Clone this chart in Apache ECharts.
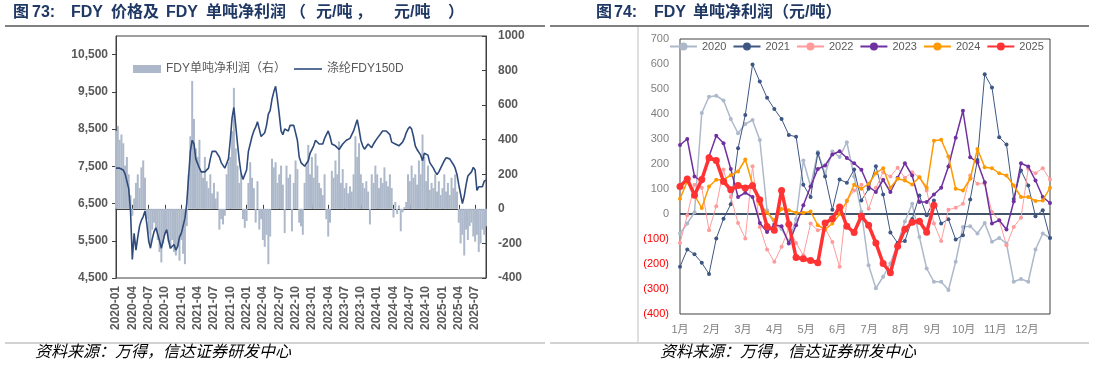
<!DOCTYPE html>
<html><head><meta charset="utf-8">
<script src="https://cdn.jsdelivr.net/npm/echarts@6/dist/echarts.min.js"></script>
<style>html,body{margin:0;padding:0;background:#fff}#c{width:1094px;height:367px}</style>
</head><body><div id="c"></div>
<script>
// ---------- Left chart: FDY price (left axis) & profit per ton (right axis), 3 points per month ----------
const price2020 = [7450,7460,7450, 7430,7400,7300, 7300,6900,6300, 5000,5700,5250, 5600,5900,6050, 6150,6300,5950, 5500,5300,5550, 5750,5850,5800, 5500,5300,5350, 5700,5800,5500, 5300,5250,5400, 5250,5350,5600];
const price2021 = [5700,5900,6100, 6500,7200,7900, 8200,8100,7700, 7650,7450,7350, 7400,7350,7400, 7450,7700,7900, 7950,7900,7850, 7750,7600,7550, 7450,7500,7700, 8200,8800,9080, 8600,8100,7650, 7300,7150,7100];
const price2022 = [7400,7900,8100, 8300,8450,8550, 8700,8500,8300, 8350,8400,8600, 8900,9000,9300, 9500,9650,9300, 8900,8450,8350, 8500,8450,8450, 8600,8650,8600, 8550,8200,7750, 7600,7550,7500, 7500,7650,7850];
const price2023 = [7950,8050,8200, 8180,8100,8050, 8100,8250,8350, 8450,8300,8100, 8100,8050,8000, 7950,7980,8100, 8150,8200,8200, 8250,8300,8450, 8600,8750,8500, 8200,8050,7960, 8000,8100,8050, 8000,8100,8180];
const price2024 = [8250,8300,8380, 8450,8450,8450, 8400,8350,8150, 8150,8100,8100, 8050,8000,8150, 8250,8400,8500, 8560,8500,8300, 8050,7950,7900, 7800,7650,7850, 7870,7800,7600, 7550,7450,7350, 7280,7350,7450];
const price2025 = [7550,7650,7730, 7730,7700,7650, 7550,7450,7280, 7000,6750,6500, 6700,7000,7240, 7200,7350,7470, 7400,6850,6950, 7000,6950,7100, 7130];

const profit2020 = [450,480,400, 430,380,250, 300,200,80, -40,60,150, 200,120,240, 280,180,-60, -150,-200,-120, -80,-130,-180, -250,-310,-200, -150,-120,-190, -230,-180,-250, -270,-220,-300];
const profit2021 = [-180,-260,-320, -100,200,420, 740,520,350, 300,400,220, 180,300,160, 120,200,90, 150,60,100, -120,-60,-90, -40,200,270, 300,450,700, 350,250,150, 200,-60,-110];
const profit2022 = [-70,150,270, 180,120,-80, 160,-120,-60, -180,-220,-150, -320,-160,290, 240,270,150, 200,250,140, -140,250,180, 200,-130,150, 280,230,-80, -100,-150,150, 250,370,200];
const profit2023 = [300,180,320, 250,150,120, 80,200,-60, -160,-80,220, 180,280,200, 390,150,230, 120,150,90, 130,100,200, 420,300,380, 200,150,120, 160,100,-90, 200,150,250];
const profit2024 = [200,120,180, 150,240,160, 130,200,120, -50,40,-30, 20,-130,-20, 10,40,200, 160,250,180, 200,140,280, 200,430,300, 160,250,110, 150,120,200, 100,160,80];
const profit2025 = [120,200,100, 150,80,180, 120,200,100, -80,-200,-150, -270,-120,-180, -100,-80,-160, -190,-150,-250, -200,-120,-150, -100];

const leftTickLabels = ['2020-01','2020-04','2020-07','2020-10','2021-01','2021-04','2021-07','2021-10','2022-01','2022-04','2022-07','2022-10','2023-01','2023-04','2023-07','2023-10','2024-01','2024-04','2024-07','2024-10','2025-01','2025-04','2025-07'];

// ---------- Right chart: weekly profit per ton by year ----------
const y2020 = [-78,-38,7,404,469,473,454,380,323,360,376,296,15,-40,-60,-110,-20,214,110,248,160,250,228,287,150,10,-205,-297,-251,-198,-118,-30,41,-92,-218,-271,-271,-304,-191,-52,-49,-78,-36,-111,-96,-118,-271,-260,-271,-142,-78,-96];
const y2021 = [-211,-142,-161,-195,-240,-98,-19,39,263,396,598,530,465,420,380,316,309,117,68,243,150,17,138,125,178,54,101,191,78,-74,-116,-108,-20,74,-5,54,-38,-21,-102,-85,58,216,559,506,307,278,60,174,114,-9,15,-96];
const y2022 = [-116,-5,117,105,-65,31,178,68,-36,-98,191,-52,-142,-191,-131,-58,-116,-165,-38,-65,-58,-112,-211,54,94,117,21,105,167,150,185,145,167,147,94,-38,-108,17,25,41,154,121,121,8,-25,-125,-52,-15,181,163,183,138];
const y2023 = [276,300,150,130,230,313,283,180,68,85,68,-36,-72,-43,-49,-118,-45,35,110,180,194,238,251,224,203,177,110,88,137,88,145,203,154,48,48,78,105,190,305,413,227,207,127,-38,-25,-62,50,203,190,134,68,44];
const y2024 = [61,130,75,24,110,137,137,155,170,218,120,40,5,-25,20,15,5,5,10,-45,-62,-38,0,52,117,101,121,163,183,105,141,134,118,147,105,293,297,230,101,94,141,260,187,183,163,154,114,68,68,52,54,105];
const y2025 = [110,140,75,138,225,214,130,97,114,104,113,57,-50,-65,94,-41,-174,-179,-186,-195,-36,-19,28,-49,-74,-8,-45,-116,-198,-235,-129,-61,-33,-29,-73,35];
const monthLabels = ['1月','2月','3月','4月','5月','6月','7月','8月','9月','10月','11月','12月'];

// ---------- build ----------
const categories = [];
for (let y = 2020; y <= 2025; y++) {
  for (let m = 1; m <= 12; m++) {
    if (y === 2025 && m > 8) break;
    for (const d of ['01','11','21']) categories.push(y + '-' + String(m).padStart(2,'0') + '-' + d);
  }
}
categories.push('2025-09-01');
const price = [].concat(price2020, price2021, price2022, price2023, price2024, price2025);
const profit = [].concat(profit2020, profit2021, profit2022, profit2023, profit2024, profit2025);
const showLeftTick = (idx, val) => leftTickLabels.indexOf(String(val).slice(0,7)) >= 0 && String(val).slice(8) === '01';

const weekPairs = arr => arr.map((v, i) => [i, v]);
const monthInterval = 365 / 7 / 12;

const FONT = '"Liberation Sans", "Noto Sans CJK SC", sans-serif';
const chart = echarts.init(document.getElementById('c'), null, {renderer: 'canvas'});

const yearStyles = [
  {name:'2020', data:y2020, color:'#ADB9CA', width:1.5, size:4},
  {name:'2021', data:y2021, color:'#3E5683', width:1, size:4},
  {name:'2022', data:y2022, color:'#FF9B9B', width:1, size:4},
  {name:'2023', data:y2023, color:'#7030A0', width:1.5, size:4},
  {name:'2024', data:y2024, color:'#FF9900', width:1.5, size:4},
  {name:'2025', data:y2025, color:'#FF3333', width:3.5, size:7}
];

const rightSeries = yearStyles.map((s, k) => ({
  name: s.name, type: 'line', xAxisIndex: 1, yAxisIndex: 2,
  data: weekPairs(s.data), symbol: 'circle', symbolSize: s.size, showSymbol: true,
  lineStyle: {color: s.color, width: s.width}, itemStyle: {color: s.color},
  z: 3 + k, animation: false,
  markLine: k === 0 ? {silent: true, symbol: ['none','none'], label: {show: false},
    lineStyle: {color: '#44546A', width: 2, type: 'solid'}, data: [{yAxis: 0}], z: 2} : undefined
}));

const lineIcon = 'path://M0,0 L0,0 M0,3.2 L28,3.2 L28,4.8 L0,4.8 Z M28,8 L28,8';
const titleFont = 'bold 16px ' + FONT;
const titleColor = '#1F3864';
const tt = (x, text) => ({type: 'text', left: x, top: 5, style: {text: text, font: titleFont, fill: titleColor}});

const option = {
  animation: false,
  textStyle: {fontFamily: FONT},
  grid: [
    {left: 116, top: 36, width: 370, height: 242, show: true, borderColor: '#404040', borderWidth: 1},
    {left: 680, top: 39, width: 370, height: 275, show: true, borderColor: '#404040', borderWidth: 1}
  ],
  legend: [
    {left: 128, top: 58, itemWidth: 28, itemHeight: 8, itemGap: 8,
     textStyle: {fontSize: 12, color: '#595959', fontFamily: FONT},
     data: [{name: 'FDY单吨净利润（右）', icon: 'rect'}, {name: '涤纶FDY150D', icon: lineIcon}]},
    {left: 664, top: 36, itemWidth: 27, itemHeight: 10, itemGap: 6,
     textStyle: {fontSize: 11, color: '#595959', fontFamily: FONT},
     data: ['2020','2021','2022','2023','2024','2025']}
  ],
  xAxis: [
    {gridIndex: 0, type: 'category', data: categories, boundaryGap: false,
     axisLine: {lineStyle: {color: '#404040', width: 1}},
     axisTick: {show: true, inside: true, length: 4, interval: showLeftTick, lineStyle: {color: '#404040'}},
     axisLabel: {interval: showLeftTick, rotate: 90, margin: 8, fontSize: 12, fontWeight: 'bold', color: '#595959',
       formatter: v => v.slice(0,7)},
     splitLine: {show: false}},
    {gridIndex: 1, type: 'value', min: 0, max: 51, interval: monthInterval,
     axisLine: {show: false}, axisTick: {show: false}, splitLine: {show: false},
     axisLabel: {margin: 10, fontSize: 11, color: '#7F7F7F', showMaxLabel: false,
       formatter: v => { const m = Math.round(v / monthInterval); return (Math.abs(v - m * monthInterval) < 0.01 && m < 12) ? monthLabels[m] : ''; }}}
  ],
  yAxis: [
    {gridIndex: 0, type: 'value', position: 'left', min: 4500, max: 11000, interval: 1000,
     axisLine: {show: true, lineStyle: {color: '#404040'}},
     axisTick: {show: true, length: 4, lineStyle: {color: '#404040'}},
     splitLine: {show: false},
     axisLabel: {margin: 8, fontSize: 12, fontWeight: 'bold', color: '#595959', showMaxLabel: false,
       formatter: v => v === 11000 ? '' : v.toLocaleString('en-US')}},
    {gridIndex: 0, type: 'value', position: 'right', min: -400, max: 1000, interval: 200,
     axisLine: {show: true, lineStyle: {color: '#404040'}},
     axisTick: {show: true, inside: true, length: 4, lineStyle: {color: '#404040'}},
     splitLine: {show: false},
     axisLabel: {margin: 12, fontSize: 12, fontWeight: 'bold', color: '#595959', formatter: v => String(v)}},
    {gridIndex: 1, type: 'value', min: -400, max: 700, interval: 100,
     axisLine: {show: false}, axisTick: {show: false}, splitLine: {show: false},
     axisLabel: {margin: 11, fontSize: 11,
       color: v => (Number(v) < 0 ? '#FF0000' : '#7F7F7F'),
       formatter: v => v < 0 ? '(' + (-v) + ')' : String(v)}}
  ],
  series: [
    {name: 'FDY单吨净利润（右）', type: 'bar', xAxisIndex: 0, yAxisIndex: 1, data: profit,
     barWidth: 2, itemStyle: {color: '#ADB9CA'}, z: 1},
    {name: '涤纶FDY150D', type: 'line', xAxisIndex: 0, yAxisIndex: 0, data: price,
     symbol: 'none', showSymbol: false, lineStyle: {color: '#2F4B7C', width: 1.6}, itemStyle: {color: '#2F4B7C'}, z: 3}
  ].concat(rightSeries),
  graphic: [
    tt(13, '图'), tt(32, '73:'), tt(71, 'FDY'), tt(111, '价格及'), tt(166, 'FDY'), tt(206, '单吨净利润'),
    tt(290, '（'), tt(316, '元/吨'), tt(356, '，'), tt(394, '元/吨'), tt(448, '）'),
    tt(596, '图'), tt(614, '74:'), tt(654, 'FDY'), tt(693, '单吨净利润（元/吨）'),
    {type: 'line', shape: {x1: 5, y1: 26, x2: 545, y2: 26}, style: {stroke: '#808080', lineWidth: 2}},
    {type: 'line', shape: {x1: 550, y1: 26, x2: 1089, y2: 26}, style: {stroke: '#808080', lineWidth: 2}},
    {type: 'line', shape: {x1: 5, y1: 343, x2: 545, y2: 343}, style: {stroke: '#A6A6A6', lineWidth: 1}},
    {type: 'line', shape: {x1: 550, y1: 343, x2: 1089, y2: 343}, style: {stroke: '#A6A6A6', lineWidth: 1}},
    {type: 'line', shape: {x1: 638, y1: 27, x2: 638, y2: 342}, style: {stroke: '#BFBFBF', lineWidth: 1}},
    {type: 'text', left: 35, top: 345, style: {text: '资料来源：万得，信达证券研发中心', font: 'italic 16px ' + FONT, fill: '#000'}},
    {type: 'text', left: 660, top: 345, style: {text: '资料来源：万得，信达证券研发中心', font: 'italic 16px ' + FONT, fill: '#000'}}
  ]
};
chart.setOption(option);
</script></body></html>
